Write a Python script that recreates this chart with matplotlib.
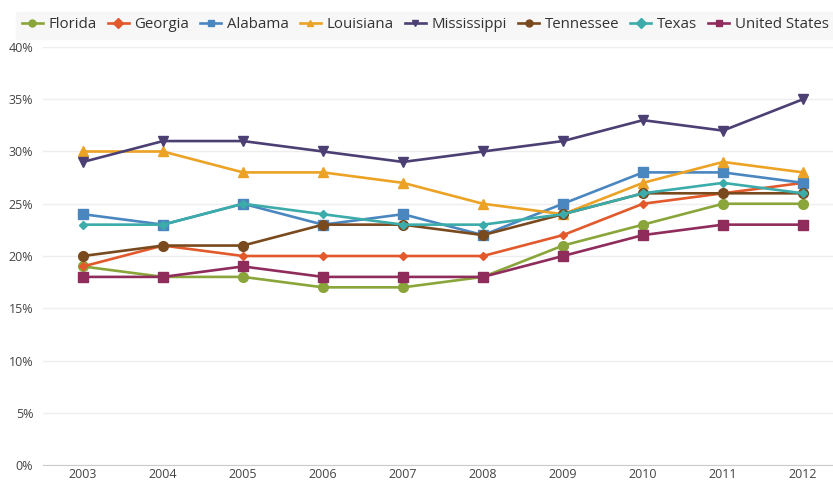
import numpy as np
import matplotlib
matplotlib.use("Agg")
from matplotlib import pyplot as plt

years = ['2003', '2004', '2005', '2006', '2007', '2008', '2009', '2010', '2011', '2012']

florida = [19, 18, 18, 17, 17, 18, 21, 23, 25, 25]
georgia = [19, 21, 20, 20, 20, 20, 22, 25, 26, 27]
alabama = [24, 23, 25, 23, 24, 22, 25, 28, 28, 27]
louisiana = [30, 30, 28, 28, 27, 25, 24, 27, 29, 28]
mississippi = [29, 31, 31, 30, 29, 30, 31, 33, 32, 35]
tennessee = [20, 21, 21, 23, 23, 22, 24, 26, 26, 26]
texas = [23, 23, 25, 24, 23, 23, 24, 26, 27, 26]
united_states = [18, 18, 19, 18, 18, 18, 20, 22, 23, 23]

series = [
    ('Florida', florida, '#8aa63a', 'o', 7),
    ('Georgia', georgia, '#e2592b', 'D', 4.5),
    ('Alabama', alabama, '#4a87c0', 's', 7),
    ('Louisiana', louisiana, '#eca224', '^', 7.5),
    ('Mississippi', mississippi, '#4b3f74', 'v', 7.5),
    ('Tennessee', tennessee, '#7a4a1f', 'o', 7),
    ('Texas', texas, '#3cacaa', 'D', 4.5),
    ('United States', united_states, '#8f2c5c', 's', 7),
]

plt.rcParams['font.family'] = ['Open Sans', 'DejaVu Sans']

fig = plt.figure(figsize=(8.33, 4.83), dpi=100)
ax = fig.add_axes([43 / 833, 1 - 465 / 483, 790 / 833, (465 - 47) / 483])

x = np.arange(len(years))
handles = []
for name, vals, col, mk, ms in series:
    h, = ax.plot(x, vals, color=col, marker=mk, markersize=ms, linewidth=1.9,
                 label=name, zorder=3)
    handles.append(h)

ax.set_xlim(-0.5, 9.375)
ax.set_ylim(0, 40)
ax.set_yticks(np.arange(0, 41, 5))
ax.set_yticklabels([f'{v}%' for v in range(0, 41, 5)])
ax.set_xticks(x)
ax.set_xticklabels(years)
ax.grid(axis='y', color='#eeeeee', linewidth=1, zorder=0)
for s in ['top', 'right', 'left']:
    ax.spines[s].set_visible(False)
ax.spines['bottom'].set_color('#cccccc')
ax.tick_params(axis='both', length=0, labelsize=9, colors='#444444')
ax.tick_params(axis='y', pad=7)
ax.tick_params(axis='x', pad=2)

leg = fig.legend(handles=handles, loc='upper left', bbox_to_anchor=(8 / 833, 1 - 4 / 483),
                 ncol=8, frameon=True, fontsize=10.8, handlelength=1.4,
                 handletextpad=0.4, columnspacing=0.72, borderpad=0.4,
                 fancybox=False)
leg.get_frame().set_facecolor('#f6f6f6')
leg.get_frame().set_edgecolor('#f6f6f6')
for t in leg.get_texts():
    t.set_color('#333333')
for lh in leg.legend_handles:
    lh.set_markersize(5)

fig.savefig('out.png', dpi=100, facecolor='white')
